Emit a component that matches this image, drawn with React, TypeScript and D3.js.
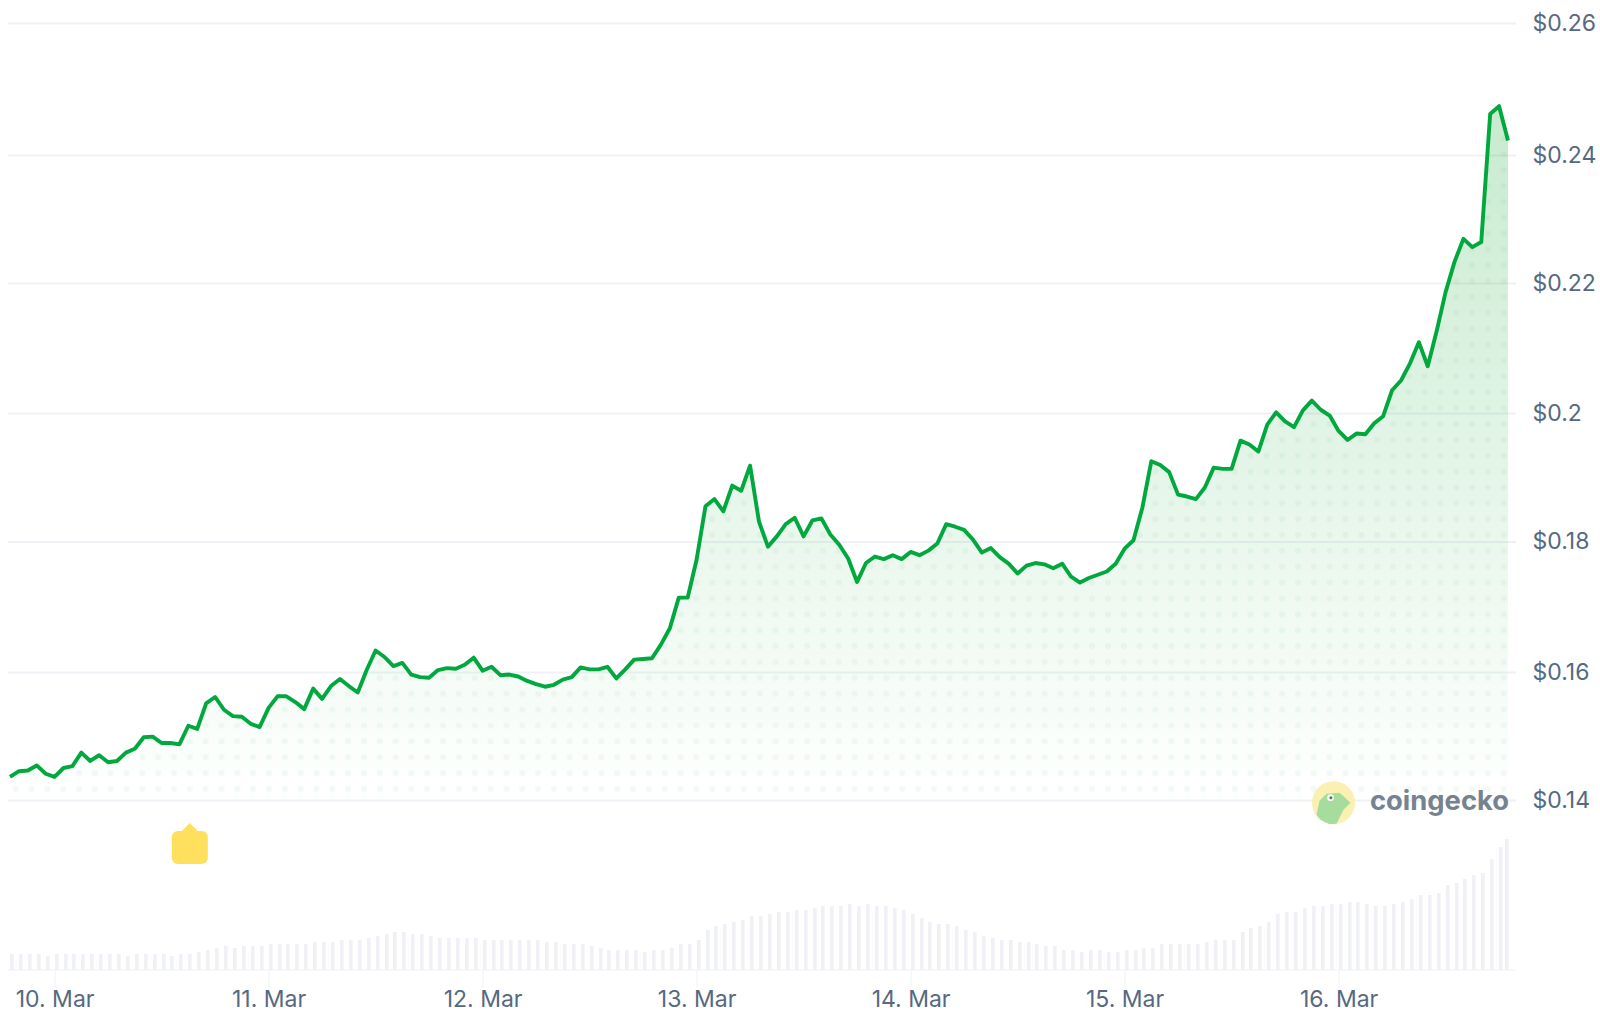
import React, { useEffect, useRef } from 'react';
import * as d3 from 'd3';

// hourly price, starts 19:00 on 9 Mar
const prices = [
  0.1436, 0.1445, 0.1446, 0.1454, 0.1441, 0.1436, 0.145, 0.1453, 0.1474, 0.1461,
  0.147, 0.1459, 0.1461, 0.1474, 0.148, 0.1498, 0.1499, 0.1489, 0.1489, 0.1487,
  0.1516, 0.1511, 0.1551, 0.1561, 0.1541, 0.1531, 0.153, 0.1519, 0.1514, 0.1544,
  0.1562, 0.1562, 0.1553, 0.1542, 0.1574, 0.1558, 0.1578, 0.1589, 0.1578, 0.1568,
  0.1603, 0.1633, 0.1623, 0.1609, 0.1614, 0.1596, 0.1592, 0.1591, 0.1603, 0.1606,
  0.1605, 0.1611, 0.1622, 0.1602, 0.1608, 0.1595, 0.1596, 0.1593, 0.1586, 0.1581,
  0.1577, 0.158, 0.1588, 0.1592, 0.1607, 0.1604, 0.1604, 0.1608, 0.159, 0.1604,
  0.1619, 0.162, 0.1621, 0.1642, 0.1667, 0.1714, 0.1714, 0.1772, 0.1855, 0.1866,
  0.1847, 0.1887, 0.1879, 0.1918, 0.1831, 0.1792, 0.1808, 0.1827, 0.1837, 0.1808,
  0.1833, 0.1836, 0.1811, 0.1795, 0.1774, 0.1738, 0.1767, 0.1777, 0.1773, 0.1779,
  0.1773, 0.1784, 0.1779, 0.1786, 0.1797, 0.1827, 0.1823, 0.1818, 0.1803, 0.1783,
  0.179, 0.1776, 0.1766, 0.1751, 0.1763, 0.1767, 0.1765, 0.1759, 0.1766, 0.1746,
  0.1737, 0.1744, 0.1749, 0.1754, 0.1766, 0.1789, 0.1802, 0.1853, 0.1925, 0.1919,
  0.1908, 0.1873, 0.187, 0.1866, 0.1884, 0.1915, 0.1913, 0.1913, 0.1957, 0.1951,
  0.194, 0.1982, 0.2001, 0.1987, 0.1978, 0.2004, 0.2019, 0.2005, 0.1996, 0.1972,
  0.1958, 0.1968, 0.1967, 0.1984, 0.1995, 0.2035, 0.205, 0.2076, 0.2109, 0.2072,
  0.2126, 0.2186, 0.2233, 0.2269, 0.2256, 0.2264, 0.2462, 0.2474, 0.2422,
];

const volumes = [
  16, 16, 16, 16, 14, 16, 16, 16, 16, 16, 16, 16, 16, 14, 16, 16, 16, 16, 14, 16,
  16, 18, 20, 22, 24, 22, 24, 24, 24, 26, 26, 26, 26, 26, 28, 28, 28, 30, 30, 30,
  32, 34, 36, 38, 38, 36, 36, 34, 32, 32, 32, 32, 32, 30, 30, 30, 30, 30, 30, 30,
  28, 28, 26, 26, 26, 24, 22, 20, 20, 20, 20, 18, 20, 20, 22, 26, 26, 30, 40, 44,
  46, 48, 50, 54, 54, 56, 58, 58, 60, 60, 62, 64, 64, 64, 66, 64, 66, 64, 64, 62,
  60, 56, 52, 48, 46, 46, 44, 40, 38, 34, 32, 30, 30, 28, 28, 26, 24, 24, 20, 20,
  18, 20, 20, 18, 18, 20, 20, 22, 22, 26, 26, 26, 26, 26, 28, 30, 30, 30, 38, 42,
  44, 48, 56, 58, 58, 62, 64, 64, 66, 66, 68, 68, 66, 64, 64, 66, 68, 71, 75, 75,
  77, 85, 87, 91, 95, 97, 111, 123, 131,
];

const priceTicks = [0.14, 0.16, 0.18, 0.2, 0.22, 0.24, 0.26];
const dayTicks = [10, 11, 12, 13, 14, 15, 16];
const flagHour = 20;

const GREEN = '#00a83e';
const FILL = '#0ea52e';
const GRID = '#f0f1f6';
const LABEL = '#56697f';
const FONT = 'Inter, sans-serif';

const hourDate = (i: number) => new Date(Date.UTC(2025, 2, 9, 19 + i));

export default function App() {
  const ref = useRef<SVGSVGElement>(null);

  useEffect(() => {
    const gridLeft = 8;
    const gridRight = 1516;
    const volBase = 970;

    const svg = d3.select(ref.current);
    svg.selectAll('*').remove();

    const x = d3
      .scaleUtc()
      .domain([hourDate(0), hourDate(168)])
      .range([10, 1508]);
    // the gridlines in the screenshot are not quite evenly spaced
    const y = d3
      .scaleLinear()
      .domain(priceTicks)
      .range([800, 672, 541.5, 413, 283, 155, 23]);
    const v = d3.scaleLinear().domain([0, 131]).range([volBase, volBase - 131]);

    const points = prices.map((p, i) => ({ t: hourDate(i), p }));

    const line = d3
      .line<{ t: Date; p: number }>()
      .x((d) => x(d.t))
      .y((d) => y(d.p));
    const area = d3
      .area<{ t: Date; p: number }>()
      .x((d) => x(d.t))
      .y0(800)
      .y1((d) => y(d.p));

    const defs = svg.append('defs');
    const grad = defs
      .append('linearGradient')
      .attr('id', 'fade')
      .attr('gradientUnits', 'userSpaceOnUse')
      .attr('x1', 0)
      .attr('x2', 0)
      .attr('y1', 105)
      .attr('y2', 800);
    grad.append('stop').attr('offset', 0).attr('stop-color', FILL).attr('stop-opacity', 0.23);
    grad.append('stop').attr('offset', 1).attr('stop-color', FILL).attr('stop-opacity', 0);

    defs
      .append('pattern')
      .attr('id', 'dots')
      .attr('patternUnits', 'userSpaceOnUse')
      .attr('x', 7.8)
      .attr('y', 781)
      .attr('width', 15.83)
      .attr('height', 15.87)
      .append('circle')
      .attr('cx', 7.9)
      .attr('cy', 7.9)
      .attr('r', 3)
      .attr('fill', GREEN)
      .attr('fill-opacity', 0.05);

    // y axis + gridlines
    svg
      .append('g')
      .attr('transform', `translate(${gridRight},0)`)
      .call(
        d3
          .axisRight(y)
          .tickValues(priceTicks)
          .tickSize(-(gridRight - gridLeft))
          .tickPadding(16.5)
          .tickFormat((d) => `$${d}`)
      )
      .call((g) => g.select('.domain').remove())
      .call((g) => g.selectAll('.tick line').attr('stroke', GRID).attr('stroke-width', 1.8))
      .call((g) =>
        g
          .selectAll('.tick text')
          .attr('fill', LABEL)
          .attr('font-family', FONT)
          .attr('font-size', 23)
      );

    // x axis
    svg
      .append('g')
      .attr('transform', `translate(0,${volBase})`)
      .call(
        d3
          .axisBottom(x)
          .tickValues(dayTicks.map((d) => new Date(Date.UTC(2025, 2, d))))
          .tickSize(18)
          .tickPadding(3)
          .tickFormat((d) => `${(d as Date).getUTCDate()}. Mar`)
      )
      .call((g) => g.select('.domain').remove())
      .call((g) => g.selectAll('.tick line').attr('stroke', '#eef1f4').attr('stroke-width', 1))
      .call((g) =>
        g
          .selectAll('.tick text')
          .attr('fill', LABEL)
          .attr('font-family', FONT)
          .attr('font-size', 23)
          .attr('dy', '0.7em')
      );

    svg
      .append('line')
      .attr('x1', gridLeft)
      .attr('x2', gridRight)
      .attr('y1', volBase)
      .attr('y2', volBase)
      .attr('stroke', GRID)
      .attr('stroke-width', 1);

    // volume
    svg
      .append('g')
      .selectAll('rect')
      .data(volumes)
      .enter()
      .append('rect')
      .attr('x', (_, i) => Math.min(Math.round(x(hourDate(i))), 1505))
      .attr('y', (d) => v(d))
      .attr('width', 3.6)
      .attr('height', (d) => volBase - v(d))
      .attr('fill', GRID);

    // price
    svg.append('path').datum(points).attr('d', area).attr('fill', 'url(#fade)');
    svg.append('path').datum(points).attr('d', area).attr('fill', 'url(#dots)');
    svg
      .append('path')
      .datum(points)
      .attr('d', line)
      .attr('fill', 'none')
      .attr('stroke', GREEN)
      .attr('stroke-width', 3.9)
      .attr('stroke-linejoin', 'round');

    // event flag
    const fx = x(hourDate(flagHour)) + 1.5;
    const flag = svg.append('g').attr('transform', `translate(${fx},831)`).attr('fill', '#fee05e');
    flag.append('rect').attr('x', -18).attr('y', 0).attr('width', 36).attr('height', 33).attr('rx', 6);
    flag.append('path').attr('d', 'M-9,1 L0,-8 L9,1 Z');

    // logo
    const logo = svg.append('g').attr('transform', 'translate(1333.5,802.7)');
    logo.append('circle').attr('r', 21.5).attr('fill', '#faf0b2');
    logo
      .append('path')
      .attr('d', 'M-17,12 L-14,-2 L-7,-9 L6,-10 L17,0 L10,7 L3,21 L-4,21.5 L-13,17 Z')
      .attr('fill', '#a6dc9d');
    logo.append('circle').attr('cx', -3).attr('cy', -5).attr('r', 3.4).attr('fill', '#f4f7f2');
    logo.append('circle').attr('cx', -2.6).attr('cy', -5).attr('r', 1.5).attr('fill', '#5e6f66');
    svg
      .append('text')
      .attr('x', 1370)
      .attr('y', 810)
      .attr('font-family', FONT)
      .attr('font-weight', 700)
      .attr('font-size', 27)
      .attr('textLength', 139)
      .attr('lengthAdjust', 'spacingAndGlyphs')
      .attr('fill', '#75828f')
      .text('coingecko');
  }, []);

  return (
    <svg
      ref={ref}
      width={1600}
      height={1020}
      style={{ position: 'absolute', left: 0, top: 0, background: '#fff' }}
    />
  );
}
